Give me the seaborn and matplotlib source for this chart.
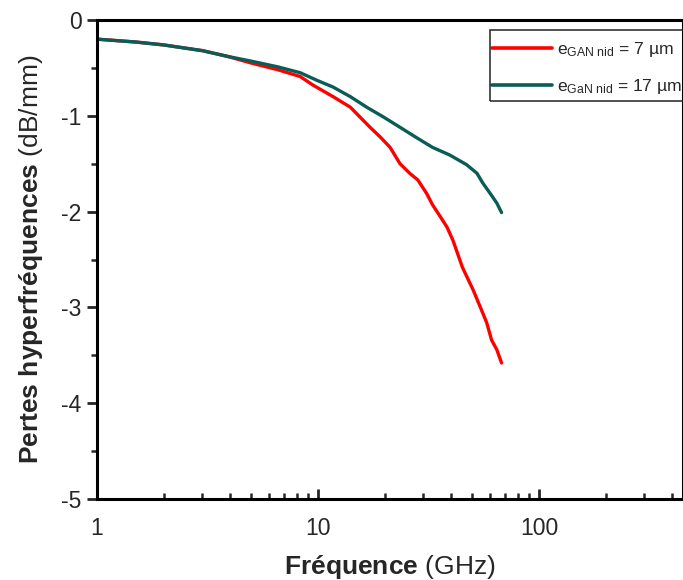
import numpy as np
import pandas as pd
import matplotlib
matplotlib.use("Agg")
import matplotlib.pyplot as plt
import matplotlib.ticker as mticker
from matplotlib.patches import Rectangle
import seaborn as sns

# Data
freq_7 = [1.0, 1.5, 2.0, 3.0, 3.9, 5.0, 6.6, 8.3, 9.5, 11.7, 14.0, 17.2, 19.1, 21.2, 23.5, 26.0, 28.3, 31.0, 33.0,
          35.7, 38.3, 40.8, 45.0, 50.4, 55.0, 58.0, 61.0, 64.4, 67.7]
loss_7 = [-0.20, -0.23, -0.26, -0.32, -0.38, -0.45, -0.52, -0.59, -0.68, -0.80, -0.91, -1.12, -1.22, -1.33, -1.50,
          -1.60, -1.67, -1.81, -1.93, -2.05, -2.16, -2.30, -2.58, -2.82, -3.03, -3.16, -3.34, -3.44, -3.58]
freq_17 = [1.0, 1.5, 2.0, 3.0, 3.9, 5.0, 6.6, 8.3, 9.9, 11.7, 14.0, 16.6, 19.7, 23.5, 28.0, 33.0, 39.5, 47.0,
           52.4, 55.6, 60.1, 64.4, 67.7]
loss_17 = [-0.20, -0.23, -0.26, -0.32, -0.38, -0.43, -0.49, -0.55, -0.63, -0.70, -0.80, -0.91, -1.01, -1.12,
           -1.23, -1.33, -1.41, -1.51, -1.60, -1.70, -1.81, -1.91, -2.01]
labels = [r"e$_{\mathrm{GAN\ nid}}$ = 7 µm", r"e$_{\mathrm{GaN\ nid}}$ = 17 µm"]
colors = ["#FF0000", "#0A5C57"]
xticks = [1, 10, 100]
yticks = [0, -1, -2, -3, -4, -5]

df = pd.concat([
    pd.DataFrame({"f": freq_7, "loss": loss_7, "serie": labels[0]}),
    pd.DataFrame({"f": freq_17, "loss": loss_17, "serie": labels[1]}),
], ignore_index=True)

sns.set_style("ticks")
plt.rcParams["font.family"] = ["Liberation Sans", "DejaVu Sans"]
plt.rcParams["axes.unicode_minus"] = False
plt.rcParams["mathtext.fontset"] = "custom"
plt.rcParams["mathtext.rm"] = "Liberation Sans"
plt.rcParams["mathtext.bf"] = "Liberation Sans:bold"
plt.rcParams["mathtext.it"] = "Liberation Sans:italic"

fig = plt.figure(figsize=(6.83, 5.80), dpi=100)
ax = fig.add_axes([97/683, 1-499/580, 1-97/683, (499-20)/580])

sns.lineplot(data=df, x="f", y="loss", hue="serie", palette=colors,
             hue_order=labels, linewidth=2.4, ax=ax, estimator=None, sort=False)

ax.set_xscale("log")
ax.set_xlim(1, 10**((683-97)/221))
ax.set_ylim(-5, 0)
ax.set_xticks(xticks)
ax.xaxis.set_major_formatter(mticker.FuncFormatter(lambda v, p: f"{v:g}"))
ax.xaxis.set_minor_locator(mticker.LogLocator(base=10, subs=np.arange(2, 10)))
ax.xaxis.set_minor_formatter(mticker.NullFormatter())
ax.set_yticks(yticks)
ax.yaxis.set_major_formatter(mticker.FuncFormatter(lambda v, p: f"{int(round(v))}"))
ax.yaxis.set_minor_locator(mticker.MultipleLocator(0.5))

for s in ax.spines.values():
    s.set_linewidth(2.2)
    s.set_color("black")

ax.tick_params(axis="x", which="major", direction="in", length=7, width=2.0, labelsize=16.5, pad=13)
ax.tick_params(axis="x", which="minor", direction="in", length=4, width=1.8)
ax.tick_params(axis="y", which="major", direction="out", length=7, width=2.0, labelsize=16.5, pad=4)
ax.tick_params(axis="y", which="minor", direction="out", length=4, width=1.8)

ax.set_xlabel(r"$\mathbf{Fréquence}$ (GHz)", fontsize=19, labelpad=9)
ax.set_ylabel(r"$\mathbf{Pertes\ hyperfréquences}$ (dB/mm)", fontsize=19, labelpad=12)

handles, labs = ax.get_legend_handles_labels()
leg = ax.legend(handles, labs, loc="upper left",
                bbox_to_anchor=(492/683, 1-40/580), bbox_transform=fig.transFigure,
                fontsize=12.6, frameon=False, handlelength=3.4, handletextpad=0.3,
                labelspacing=1.05, borderpad=0.0, borderaxespad=0.0, title=None)
for line in leg.get_lines():
    line.set_linewidth(2.6)

fig.patches.append(Rectangle((490/683, 1-101/580), 220/683, 71/580, transform=fig.transFigure,
                             facecolor="none", edgecolor="#222222", linewidth=1.1, zorder=5))

fig.savefig("out.png", dpi=100)
